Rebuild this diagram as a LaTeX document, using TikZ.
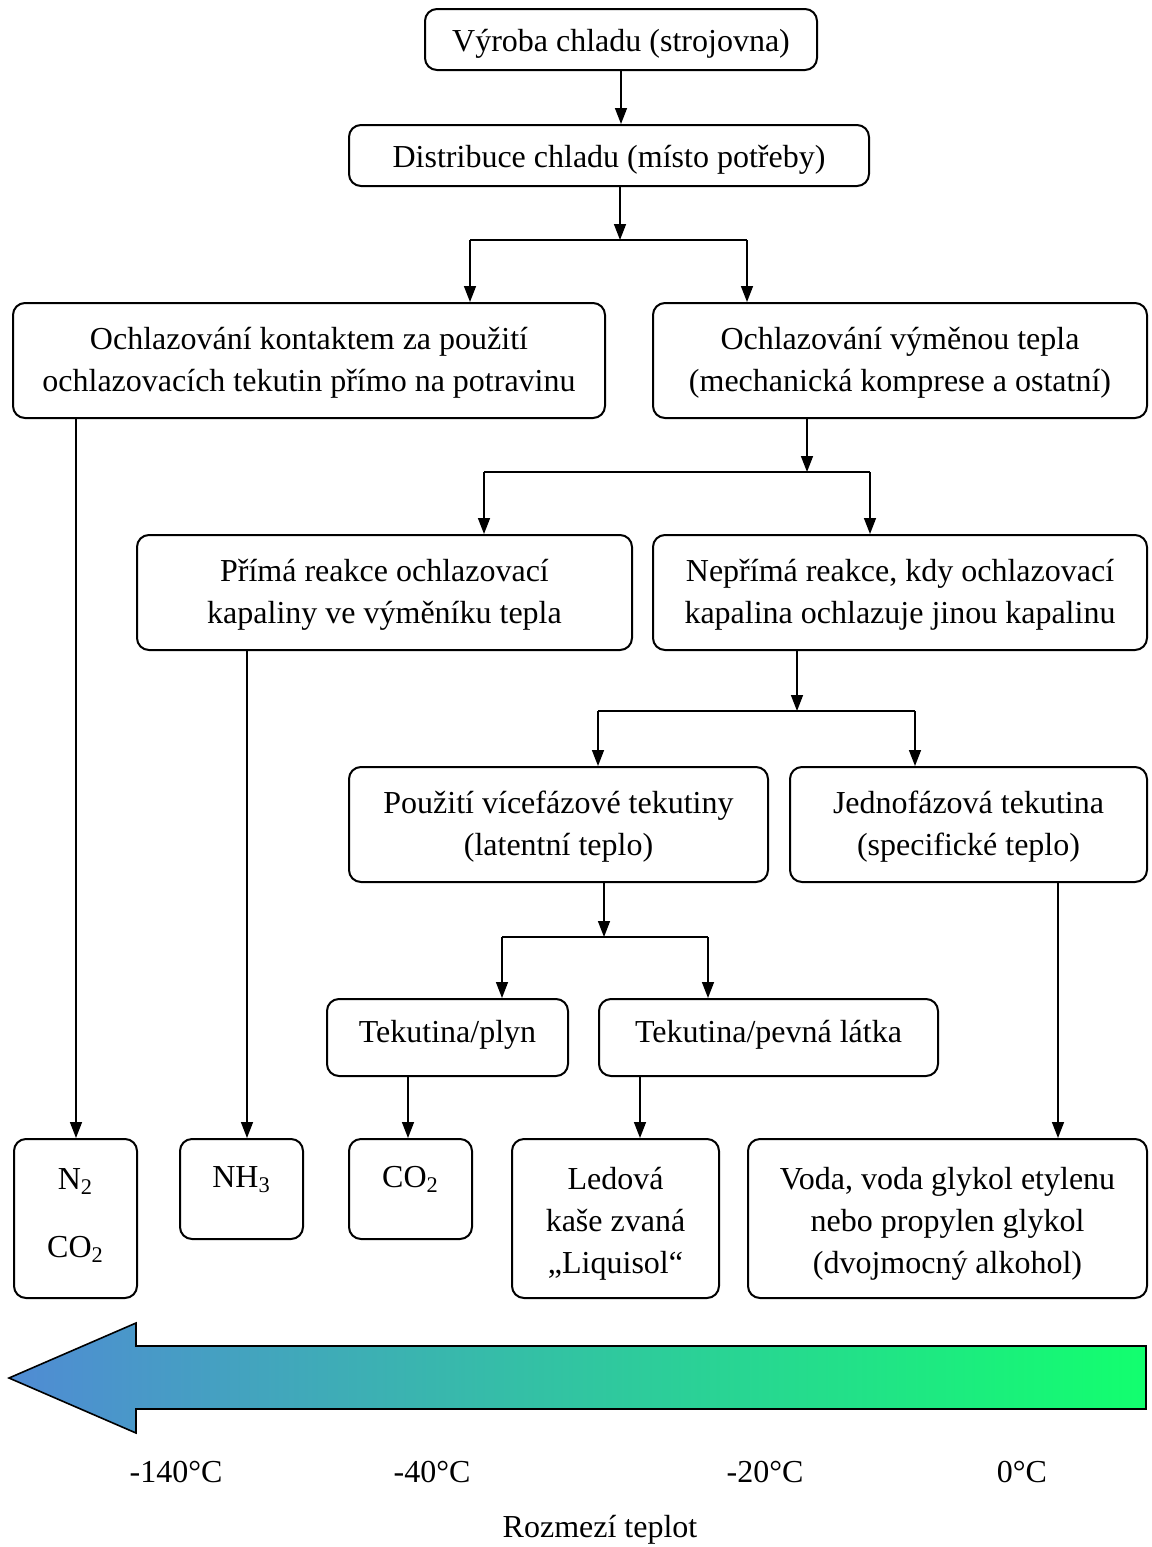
\documentclass[tikz,border=0pt]{standalone}
\usepackage{fontspec}
\setmainfont{Liberation Serif}
\usetikzlibrary{arrows.meta}

\definecolor{coldblue}{RGB}{80,139,212}
\definecolor{warmgreen}{RGB}{18,255,110}

\begin{document}
\begin{tikzpicture}[
  x=0.5pt, y=-0.5pt,
  box/.style={draw, line width=1pt, rounded corners=6pt, inner sep=0pt,
    align=flush center, anchor=north west, font=\fontsize{16}{21}\selectfont},
  one/.style={text height=21pt, text depth=9.5pt},
  low/.style={text height=21.5pt, text depth=17pt},
  two/.style={text height=23pt, text depth=34.5pt},
  three/.style={text height=25pt, text depth=54.5pt},
  chem/.style={text height=24pt, text depth=26pt},
  line/.style={line width=0.75pt},
  arr/.style={line width=0.75pt, -{Triangle[width=6pt,length=8pt]}},
  lbl/.style={anchor=base, font=\fontsize{16}{21}\selectfont}
]
\useasboundingbox (0,0) rectangle (1151,1547);

% boxes
\node [box, one, text width=196pt] (vyroba) at (424,8) {Výroba chladu (strojovna)};
\node [box, one, text width=260pt] (distr) at (348,124) {Distribuce chladu (místo potřeby)};
\node [box, two, text width=296pt] (kontakt) at (12,302) {Ochlazování kontaktem za použití\\ochlazovacích tekutin přímo na potravinu};
\node [box, two, text width=247pt] (vymena) at (652,302) {Ochlazování výměnou tepla\\(mechanická komprese a ostatní)};
\node [box, two, text width=247.5pt] (prima) at (136,534) {Přímá reakce ochlazovací\\kapaliny ve výměníku tepla};
\node [box, two, text width=247pt] (neprima) at (652,534) {Nepřímá reakce, kdy ochlazovací\\kapalina ochlazuje jinou kapalinu};
\node [box, two, text width=209.5pt] (vicefaz) at (348,766) {Použití vícefázové tekutiny\\(latentní teplo)};
\node [box, two, text width=178.5pt] (jednofaz) at (789,766) {Jednofázová tekutina\\(specifické teplo)};
\node [box, low, text width=120.5pt] (plyn) at (326,998) {Tekutina/plyn};
\node [box, low, text width=169.5pt] (pevna) at (598,998) {Tekutina/pevná látka};
\node [box, three, text width=61.5pt] (dusik) at (13,1138) {N\textsubscript{2}\\[13pt]CO\textsubscript{2}};
\node [box, chem, text width=61.5pt] (amoniak) at (179,1138) {NH\textsubscript{3}};
\node [box, chem, text width=61.5pt] (oxid) at (348,1138) {CO\textsubscript{2}};
\node [box, three, text width=103.5pt] (ledova) at (511,1138) {Ledová\\kaše zvaná\\„Liquisol“};
\node [box, three, text width=199.5pt] (voda) at (747,1138) {Voda, voda glykol etylenu\\nebo propylen glykol\\(dvojmocný alkohol)};

% branch points
\coordinate (j1) at (620,240);
\coordinate (j1a) at (470,240);
\coordinate (j1b) at (747,240);
\coordinate (j2) at (807,472);
\coordinate (j2a) at (484,472);
\coordinate (j2b) at (870,472);
\coordinate (j3) at (797,711);
\coordinate (j3a) at (598,711);
\coordinate (j3b) at (915,711);
\coordinate (j4) at (604,937);
\coordinate (j4a) at (502,937);
\coordinate (j4b) at (708,937);
\coordinate (d1) at (76,0);
\coordinate (d2) at (247,0);
\coordinate (d3) at (408,0);
\coordinate (d4) at (640,0);
\coordinate (d5) at (1058,0);

% connectors
\draw [arr] (vyroba.south) -- (vyroba.south |- distr.north);
\draw [arr] (j1 |- distr.south) -- (j1);
\draw [line] (j1a) -- (j1b);
\draw [arr] (j1a) -- (j1a |- kontakt.north);
\draw [arr] (j1b) -- (j1b |- vymena.north);
\draw [arr] (j2 |- vymena.south) -- (j2);
\draw [line] (j2a) -- (j2b);
\draw [arr] (j2a) -- (j2a |- prima.north);
\draw [arr] (j2b) -- (j2b |- neprima.north);
\draw [arr] (j3 |- neprima.south) -- (j3);
\draw [line] (j3a) -- (j3b);
\draw [arr] (j3a) -- (j3a |- vicefaz.north);
\draw [arr] (j3b) -- (j3b |- jednofaz.north);
\draw [arr] (j4 |- vicefaz.south) -- (j4);
\draw [line] (j4a) -- (j4b);
\draw [arr] (j4a) -- (j4a |- plyn.north);
\draw [arr] (j4b) -- (j4b |- pevna.north);
\draw [arr] (d1 |- kontakt.south) -- (d1 |- dusik.north);
\draw [arr] (d2 |- prima.south) -- (d2 |- amoniak.north);
\draw [arr] (d3 |- plyn.south) -- (d3 |- oxid.north);
\draw [arr] (d4 |- pevna.south) -- (d4 |- ledova.north);
\draw [arr] (d5 |- jednofaz.south) -- (d5 |- voda.north);

% temperature scale
\draw [line width=0.8pt, left color=coldblue, right color=warmgreen]
  (9,1378) -- (136,1323) -- (136,1346) -- (1146,1346) -- (1146,1409)
  -- (136,1409) -- (136,1433) -- cycle;
\node [lbl] (t140) at (176,1482) {-140°C};
\node [lbl] (t40) at (432,1482) {-40°C};
\node [lbl] (t20) at (765,1482) {-20°C};
\node [lbl] (t0) at (1022,1482) {0°C};
\node [lbl] (rozmezi) at (600,1537) {Rozmezí teplot};
\end{tikzpicture}
\end{document}
